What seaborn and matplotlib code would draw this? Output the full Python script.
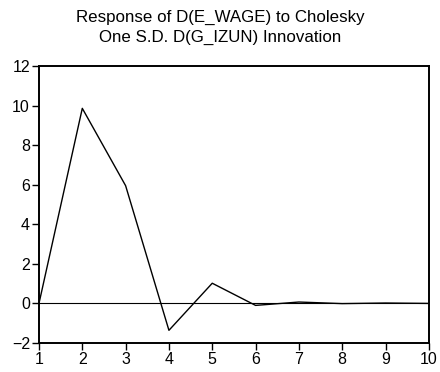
import matplotlib
matplotlib.use("Agg")
import matplotlib.pyplot as plt
import seaborn as sns
import pandas as pd

periods = [1, 2, 3, 4, 5, 6, 7, 8, 9, 10]
response = [0.0, 9.86, 5.95, -1.36, 1.02, -0.1, 0.07, -0.01, 0.02, 0.0]
y_ticks = [-2, 0, 2, 4, 6, 8, 10, 12]

sns.set_style("white")
plt.rcParams["font.family"] = ["Liberation Sans", "DejaVu Sans"]
plt.rcParams["text.color"] = "black"
plt.rcParams["xtick.color"] = "black"
plt.rcParams["ytick.color"] = "black"

df = pd.DataFrame({"period": periods, "response": response})

fig = plt.figure(figsize=(4.4, 3.72), dpi=100)
ax = fig.add_axes([0.0886, 0.078, 0.886, 0.7446])

ax.axhline(0, color="black", lw=0.8, zorder=1)
sns.lineplot(data=df, x="period", y="response", ax=ax, color="black", lw=1.0, zorder=2)

ax.set_xlim(1, 10)
ax.set_ylim(-2, 12)
ax.set_xticks(periods)
ax.set_yticks(y_ticks)
ax.set_xlabel("")
ax.set_ylabel("")
for s in ax.spines.values():
    s.set_visible(True)
    s.set_color("black")
    s.set_linewidth(1.4)
ax.tick_params(axis="both", direction="out", length=5, width=1, color="black",
               labelcolor="black", labelsize=11.5, pad=1.5, bottom=True, left=True)

fig.text(0.5, 0.953, "Response of D(E_WAGE) to Cholesky", ha="center", va="center",
         fontsize=12.2, color="black")
fig.text(0.5, 0.900, "One S.D. D(G_IZUN) Innovation", ha="center", va="center",
         fontsize=12.2, color="black")

fig.savefig("out.png", dpi=100)
